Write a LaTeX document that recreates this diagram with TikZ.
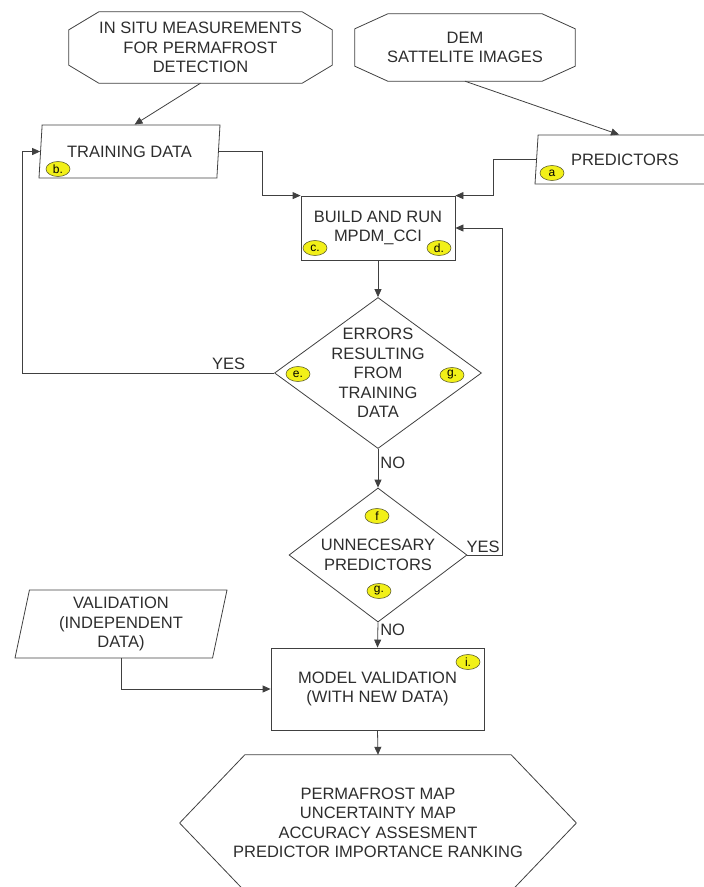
\documentclass[tikz,border=0pt]{standalone}
\usepackage{fontspec}
\setmainfont{Liberation Sans}
\usetikzlibrary{shapes.geometric,arrows.meta}

\definecolor{linegray}{RGB}{64,64,64}
\definecolor{textgray}{RGB}{45,45,45}
\definecolor{badgeyellow}{RGB}{242,240,24}
\definecolor{badgeline}{RGB}{96,96,48}

\tikzset{
  shapeline/.style={draw=linegray,line width=0.8pt},
  cutbox/.style={rectangle,inner sep=0pt},
  datain/.style={trapezium,trapezium left angle=75,trapezium right angle=105,
    trapezium stretches body,shapeline,inner sep=0pt},
  procbox/.style={rectangle,shapeline,inner sep=0pt},
  decision/.style={diamond,shapeline,inner sep=0pt},
  badge/.style={ellipse,fill=badgeyellow,draw=badgeline,line width=0.6pt,
    minimum width=24pt,minimum height=15pt,inner sep=0pt,
    font=\fontsize{12}{12}\selectfont,text=black},
  flow/.style={draw=linegray,line width=0.8pt,-{Triangle[length=8pt,width=7pt]}}
}

% border with cut corners round a named node: name, x cut, y cut
\newcommand{\cutborder}[3]{%
  \draw[shapeline] ([xshift=#2]#1.north west) -- ([xshift=-#2]#1.north east)
    -- ([yshift=-#3]#1.north east) -- ([yshift=#3]#1.south east)
    -- ([xshift=-#2]#1.south east) -- ([xshift=#2]#1.south west)
    -- ([yshift=#3]#1.south west) -- ([yshift=-#3]#1.north west) -- cycle;}

\begin{document}
\begin{tikzpicture}[x=1pt,y=-1pt,
    every node/.style={text=textgray,align=center,font=\fontsize{16.5}{19.5}\selectfont}]

  \useasboundingbox (0,0) rectangle (704,887);

  % sources
  \node[cutbox,minimum width=263pt,minimum height=71pt] (insitu) at (200.5,47.5)
    {IN SITU MEASUREMENTS\\FOR PERMAFROST\\DETECTION};
  \node[cutbox,minimum width=220pt,minimum height=67pt] (dem) at (465,47.5)
    {DEM\\SATTELITE IMAGES};
  \cutborder{insitu}{30pt}{18pt}
  \cutborder{dem}{33pt}{15pt}

  % data
  \node[datain,minimum width=181pt,minimum height=53pt] (train) at (129.5,151.5) {TRAINING DATA};
  \node[datain,minimum width=180pt,minimum height=49pt] (pred) at (625,159.5) {PREDICTORS};
  \node[datain,minimum width=212pt,minimum height=68pt] (valid) at (121,624)
    {VALIDATION\\(INDEPENDENT\\DATA)};

  % process
  \node[procbox,minimum width=154pt,minimum height=64pt] (build) at (378,228)
    {BUILD AND RUN\\MPDM\_CCI};
  \node[decision,minimum width=207pt,minimum height=151pt,
    label={center:ERRORS\\RESULTING\\FROM\\TRAINING\\DATA}] (errors) at (378,373) {};
  \node[decision,minimum width=178pt,minimum height=134pt,
    label={center:UNNECESARY\\PREDICTORS}] (unnec) at (378,555) {};
  \node[procbox,minimum width=213pt,minimum height=82pt] (model) at (377.5,689)
    {MODEL VALIDATION\\(WITH NEW DATA)};

  % results
  \node[cutbox,minimum width=396pt,minimum height=136pt] (result) at (378,823)
    {PERMAFROST MAP\\UNCERTAINTY MAP\\ACCURACY ASSESMENT\\PREDICTOR IMPORTANCE RANKING};
  \cutborder{result}{65pt}{68pt}

  % markers
  \node[badge] (ma) at (552,173) {a};
  \node[badge] (mb) at (58,169)  {b.};
  \node[badge] (mc) at (315,248) {c.};
  \node[badge] (md) at (439,248) {d.};
  \node[badge] (me) at (298,374) {e.};
  \node[badge] (mg) at (452,375) {g.};
  \node[badge] (mf) at (377,516) {f};
  \node[badge] (mh) at (379,591) {g.};
  \node[badge] (mi) at (468,662) {i.};

  % connectors
  \draw[flow] (insitu.south) -- ([xshift=5pt]train.north);
  \draw[flow] (dem.south) -- ([xshift=-6pt]pred.north);
  \draw[flow] (train.east) -- ++(44,0) |- (build.north west);
  \draw[flow] (pred.west) -- ++(-43,0) |- (build.north east);
  \draw[flow] (build.south) -- (errors.north);
  \draw[flow] (errors.west) -- node[above,pos=0.18,inner sep=3pt] {YES} ++(-252,0) |- (train.west);
  \draw[flow] (errors.south) -- node[right,pos=0.37,inner sep=2pt] {NO} (unnec.north);
  \draw[flow] (unnec.east) -- node[above,pos=0.45,inner sep=2pt] {YES} ++(35,0) |- (build.east);
  \draw[flow] (unnec.south) -- node[right,pos=0.3,inner sep=2pt] {NO} (model.north);
  \draw[flow] (valid.south) |- (model.west);
  \draw[flow] (model.south) -- (result.north);

\end{tikzpicture}
\end{document}
